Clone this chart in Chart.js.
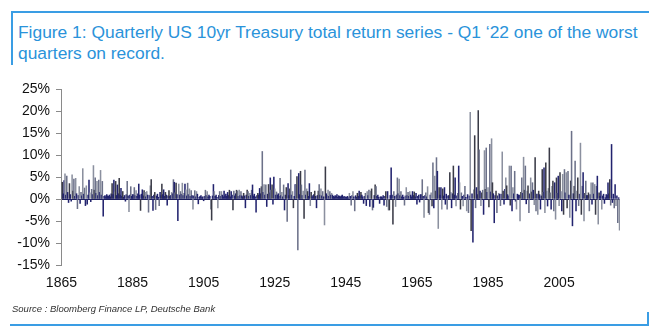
<!DOCTYPE html>
<html>
<head>
<meta charset="utf-8">
<title>US 10yr Treasury quarterly total return</title>
<script src="https://cdn.jsdelivr.net/npm/chart.js@4.4.1/dist/chart.umd.min.js"></script>
<style>
    html, body { margin: 0; padding: 0; background: #fff; }
    body { width: 664px; height: 333px; position: relative; overflow: hidden; font-family: "Liberation Sans", Arial, sans-serif; }
    .title-box { position: absolute; left: 11px; top: 11px; width: 636px; height: 52px; border-top: 2px solid #3a9de4; border-left: 2px solid #3a9de4; }
    .title { position: absolute; left: 18px; top: 22px; color: #2a93da; font-size: 17.4px; line-height: 21px; white-space: nowrap; }
    #chart-wrap { position: absolute; left: 0; top: 0; width: 664px; height: 333px; }
    .source { position: absolute; left: 12px; top: 303px; font-size: 9.5px; font-style: italic; color: #333; }
    .source-box { position: absolute; left: 10px; top: 312px; width: 637px; height: 12px; border-bottom: 2px solid #3a9de4; border-right: 2px solid #3a9de4; }
</style>
</head>
<body>
<div class="title-box"></div>
<div class="title" id="title">Figure 1: Quarterly US 10yr Treasury total return series - Q1 ‘22 one of the worst<br>quarters on record.</div>
<div id="chart-wrap"><canvas id="returns-chart" width="664" height="333"></canvas></div>
<div class="source">Source : Bloomberg Finance LP, Deutsche Bank</div>
<div class="source-box"></div>

<script>
// quarterly total return, %, Q1 1865 .. Q1 2022
const firstYear = 1865;
const tickYears = [1865, 1885, 1905, 1925, 1945, 1965, 1985, 2005];

const returns1865 = [
    3.0, 3.8, 1.2, 4.2, 5.7, 0.9, 5.2, 1.5, -0.8, 3.5,
    1.0, -0.5, 5.5, 1.8, 4.5, 0.6, 4.7, 1.2, -2.2, 0.8,
    2.8, -1.0, 1.5, 0.7, 6.9, 1.1, 2.5, -1.5, 3.0, -1.2,
    0.9, 4.3, 1.4, -0.6, 2.2, 1.0, 7.6, 2.0, 4.8, 1.3,
    4.0, 0.8, 4.3, 1.5, 6.5, 0.9, 4.0, -3.9, 0.6, 0.8,
    0.5, 1.0, 0.7, 0.6, 0.9, 0.5, 1.2, 3.5, 1.0, 4.3,
    1.6, 4.0, 0.8, 3.2, 1.2, 4.7, 0.9, 2.4, 0.6, 1.7,
    0.4, 0.8, -0.5, 1.0, 4.0, 0.7, -2.9, 0.9, 2.8, 0.6
];
const returns1885 = [
    1.0, 1.0, 2.6, 0.8, 1.9, 0.6, 1.2, 3.4, 0.9, -2.6,
    1.1, 2.1, 0.7, 1.9, 1.5, 0.5, 1.7, 0.9, -3.0, 0.8,
    3.0, 4.4, 0.6, -2.6, 0.9, 1.5, -2.4, 0.7, 1.1, 0.4,
    -1.5, 1.5, 0.8, 3.4, 1.0, 2.1, 0.6, 1.5, 0.9, -1.4,
    0.7, 1.9, 0.6, 0.8, 1.5, 1.2, 4.4, 3.8, 1.4, 3.6,
    1.0, -4.9, 3.4, 0.9, 1.7, 1.1, 3.6, 0.8, 1.3, 3.4,
    2.1, 0.7, 3.6, 1.0, 2.3, 0.6, 1.9, 0.8, -2.3, 0.7,
    1.9, 0.5, 1.7, 1.1, -1.1, 0.4, 0.6, 0.8, 0.3, 0.5
];
const returns1905 = [
    -0.4, 0.6, 2.0, 0.8, 1.7, 0.5, 0.9, 0.6, -2.3, -4.8,
    0.7, 3.3, 1.7, 0.6, 0.9, 0.4, -2.0, 0.8, 1.7, 0.6,
    1.7, 0.9, 0.5, 1.8, 0.7, 1.1, 0.6, 1.5, 0.8, 2.0,
    0.5, 1.7, 0.9, -2.5, 1.8, 0.7, 1.2, 2.0, 1.8, 0.6,
    2.0, 0.8, 1.7, 0.7, 0.5, 1.3, 0.7, -2.0, 0.9, 2.0,
    1.7, 0.6, 1.3, 0.8, 2.0, 3.2, 0.7, 1.1, 0.5, -3.0,
    0.8, 1.3, 0.9, 2.4, 1.2, 2.8, 10.8, 1.5, 3.3, 0.9,
    3.2, -1.7, 1.1, 3.3, 1.4, 4.8, 2.0, 3.2, -1.2, 5.0
];
const returns1925 = [
    2.3, 0.9, 1.6, 0.9, 1.2, 0.6, 4.7, 0.8, 1.5, 0.5,
    3.2, -2.5, 0.9, 2.6, -5.1, 3.5, 0.8, 2.3, 6.6, 0.9,
    1.7, -2.0, 0.6, 3.3, 3.2, 5.1, -11.6, 5.8, 1.0, 6.3,
    3.2, 0.8, 1.8, -4.4, 6.6, 0.9, 2.3, 1.7, 0.6, 3.5,
    -1.5, 1.5, 0.5, 0.75, 1.0, 1.8, 0.6, -2.0, 0.8, 1.8,
    3.3, 0.9, 2.3, 0.7, 1.7, 0.5, -5.9, 7.3, 1.2, 0.8,
    2.0, 0.6, 1.7, 0.9, 1.3, 0.9, 0.6, 0.5, 0.75, 0.6,
    1.0, 0.4, 0.75, 0.6, 0.5, 0.7, 0.9, 0.4, 0.6, 0.3
];
const returns1945 = [
    0.5, 0.4, 0.6, 0.3, 1.3, 0.6, -1.4, 0.8, 1.7, 0.5,
    -2.7, 0.75, 0.4, 1.3, 0.6, 1.8, 0.7, 1.5, 0.9, 0.5,
    -1.0, 0.6, 1.3, -1.5, 1.7, 0.8, 2.0, -1.7, 1.8, 2.3,
    -2.5, -1.9, 0.8, 3.2, 2.8, 0.6, 0.9, 0.4, -1.0, 0.5,
    0.5, 0.3, 0.75, -1.4, 0.6, 1.7, -1.7, 1.7, -2.5, -2.5,
    0.8, 7.1, 0.9, -5.7, 1.7, 0.6, -1.7, 0.9, 4.8, 1.2,
    4.5, 0.8, 1.7, 0.5, 0.9, 0.4, -1.4, 0.7, 2.6, 0.8,
    1.5, 0.6, 1.7, 0.9, 0.5, 1.7, 0.8, 1.6, 0.5, 1.3
];
const returns1965 = [
    -1.2, 0.6, 0.9, -0.7, 1.0, 1.0, 4.4, 0.6, -4.2, 0.8,
    1.4, 0.5, 2.8, -3.1, -3.5, 0.9, 1.4, -1.6, 8.2, -2.0,
    5.2, 1.8, 9.4, 6.3, -6.7, 2.6, 0.9, 2.6, -2.3, 2.3,
    0.7, 2.6, -1.2, 1.1, -2.3, 0.7, 0.8, 6.0, 1.5, -2.0,
    1.2, 7.5, 0.9, 4.8, -1.6, 0.7, 1.3, 7.5, 3.7, -2.3,
    1.4, 0.6, -1.6, 0.9, 2.9, 0.4, -2.7, 1.0, -3.1, 0.7,
    19.7, -7.2, 1.2, -9.8, 2.1, 14.4, -2.0, 2.6, 1.0, 20.1,
    11.2, 1.8, -1.5, 1.4, 2.0, -3.5, 11.0, 2.2, 11.6, 1.5
];
const returns1985 = [
    2.6, -1.8, 12.4, 1.6, 13.7, 3.7, 1.2, -5.4, 0.8, 1.8,
    -3.1, 0.7, 1.3, 1.1, -1.5, 1.1, 10.7, 1.8, -1.2, 2.2,
    4.8, 3.0, 1.0, 0.7, 7.5, -1.4, 7.5, -2.7, 2.6, 1.2,
    6.3, -0.5, -2.3, 1.1, 0.9, 0.9, -5.0, 1.5, 4.8, 1.3,
    9.5, 2.0, 7.5, -1.1, 1.8, 3.0, -3.1, 1.2, 4.8, 1.6,
    3.7, 2.0, -1.3, 9.4, -2.7, 1.1, -3.5, 1.8, 1.0, -2.3,
    0.7, 6.7, 1.5, 7.1, -3.1, 8.2, 1.8, -1.6, 2.4, 11.6,
    1.4, -2.3, 2.9, 4.1, -2.7, 3.7, -4.6, 4.8, 1.3, 5.2
];
const returns2005 = [
    -1.5, 6.0, 1.7, -2.7, 5.6, -3.5, 6.7, 1.4, 6.0, -2.0,
    6.3, 0.9, -4.2, 4.1, 15.4, -6.1, 1.2, 2.9, 8.6, -2.7,
    1.8, 4.8, -1.5, 1.1, 12.7, -3.5, 2.9, 6.0, -5.0, 1.3,
    4.1, 0.8, 0.8, 1.4, -2.7, 1.0, 3.7, -1.2, 3.7, 1.1,
    3.3, -3.5, 2.9, 5.2, -5.7, 1.4, 0.6, 1.8, -2.3, 0.7,
    1.1, -1.0, 0.3, 1.0, 0.9, 3.7, 1.2, 4.4, -1.4, 12.4,
    -0.8, 1.1, -2.0, 3.3, -1.5, 0.7, -5.4, 0.3, -7.1
];

const quarterlyReturns = [].concat(
    returns1865, returns1885, returns1905, returns1925,
    returns1945, returns1965, returns1985, returns2005
);

const quarterLabels = quarterlyReturns.map((v, i) => {
    const year = firstYear + Math.floor(i / 4);
    return year + ' Q' + (i % 4 + 1);
});

// thin bars: small moves read navy, bigger spikes alternate grey shades
const navy = '#22236e';
const spikeShades = ['#8b909f', '#3a3b47', '#6c7189', '#22236e'];

const axisFont = {family: '"Liberation Sans", Arial, sans-serif', size: 14};

const returnsChart = new Chart(document.getElementById('returns-chart'), {
    type: 'bar',
    data: {
        labels: quarterLabels,
        datasets: [{
            label: 'US 10yr Treasury total return',
            data: quarterlyReturns,
            backgroundColor: ctx => Math.abs(ctx.raw) < 1.3 ? navy : spikeShades[ctx.dataIndex % spikeShades.length],
            borderWidth: 0,
            categoryPercentage: 1.0,
            barPercentage: 1.0
        }]
    },
    options: {
        responsive: false,
        animation: false,
        layout: {
            padding: {top: 89, right: 44, bottom: 0, left: 0}
        },
        plugins: {
            legend: {display: false},
            tooltip: {enabled: false}
        },
        scales: {
            x: {
                offset: true,
                grid: {display: false},
                border: {display: false},
                ticks: {
                    autoSkip: false,
                    maxRotation: 0,
                    minRotation: 0,
                    padding: 2,
                    color: '#111',
                    font: axisFont,
                    callback: function (value) {
                        const label = this.getLabelForValue(value);
                        const year = parseInt(label, 10);
                        if (label.endsWith('Q1') && tickYears.includes(year)) {
                            return String(year);
                        }
                        return null;
                    }
                },
                afterFit: scale => { scale.height = 68; }
            },
            y: {
                min: -15,
                max: 25,
                ticks: {
                    stepSize: 5,
                    padding: 6,
                    color: '#111',
                    font: axisFont,
                    callback: value => value + '%'
                },
                grid: {
                    color: ctx => ctx.tick && ctx.tick.value === 0 ? '#1d1f5c' : 'transparent',
                    tickColor: '#8a8a8a',
                    tickLength: 5,
                    lineWidth: 1
                },
                border: {color: '#8a8a8a'},
                afterFit: scale => { scale.width = 61; }
            }
        }
    }
});
</script>
</body>
</html>
